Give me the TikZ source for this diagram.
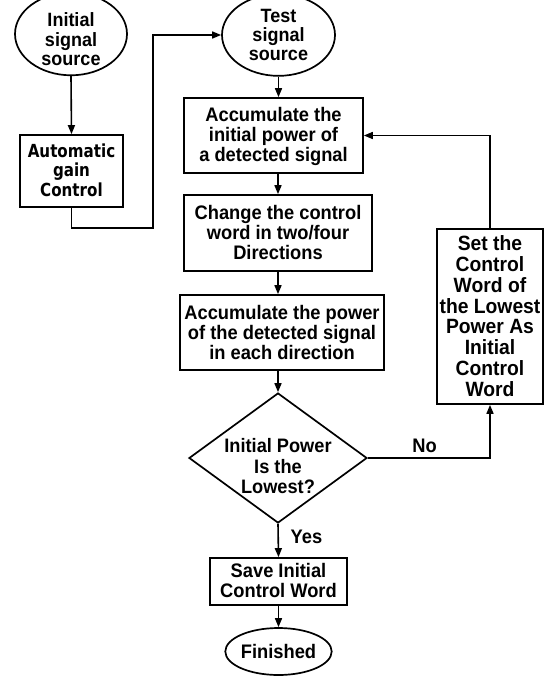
\documentclass[tikz,border=0pt]{standalone}
\usepackage{fontspec}
\usepackage{graphicx}
\setmainfont{Liberation Sans}
\newfontfamily\agcfont{DejaVu Sans}
\usetikzlibrary{arrows.meta,shapes.geometric}
\newcommand\tl[2][2pt]{\raisebox{-#1}[\height][\depth]{\scalebox{1}[1.07]{\begin{tabular}{@{}c@{}}#2\end{tabular}}}}
\newcommand\tla[1]{\raisebox{-2pt}[\height][\depth]{\scalebox{0.84}[1]{\begin{tabular}{@{}c@{}}#1\end{tabular}}}}
\tikzset{
  base/.style={draw=black, line width=1.7pt, inner sep=0pt, font=\fontsize{18.3}{18.2}\selectfont\bfseries},
  oval/.style={base, ellipse},
  boxn/.style={base, rectangle},
  decision/.style={base, diamond},
  txt/.style={inner sep=0pt, font=\fontsize{18.3}{18.2}\selectfont\bfseries},
  arr/.style={line width=1.6pt, -{Triangle[length=9pt,width=7pt]}},
  ln/.style={line width=1.6pt}
}
\begin{document}
\begin{tikzpicture}[x=1pt,y=1pt]
\useasboundingbox (0,0) rectangle (551,-677);
\node[oval, minimum width=112pt, minimum height=66pt, font=\fontsize{18}{17.8}\selectfont\bfseries] (is) at (71,-34) {\tl[8pt]{Initial\\signal\\source}};
\node[boxn, minimum width=103pt, minimum height=72pt, font=\fontsize{18}{19}\selectfont\agcfont\bfseries] (agc) at (71.5,-171) {\tla{Automatic\\gain\\Control}};
\node[oval, minimum width=113pt, minimum height=66pt, font=\fontsize{18}{17.8}\selectfont\bfseries] (ts) at (278.5,-35) {\tl[2.6pt]{Test\\signal\\source}};
\node[boxn, minimum width=179pt, minimum height=75pt] (b1) at (273.5,-135.5) {\tl{Accumulate the\\initial power of\\a detected signal}};
\node[boxn, minimum width=188pt, minimum height=76pt] (b2) at (278,-233) {\tl{Change the control\\word in two/four\\Directions}};
\node[boxn, minimum width=204pt, minimum height=75pt] (b3) at (282,-332.5) {\tl[3pt]{Accumulate the power\\of the detected signal\\in each direction}};
\node[decision, minimum width=178pt, minimum height=130pt] (d) at (278,-458) {};
\node[txt, font=\fontsize{18.2}{18.7}\selectfont\bfseries] (dt) at (278,-469) {\tl[0pt]{Initial Power\\Is the\\Lowest?}};
\node[boxn, minimum width=106pt, minimum height=175pt, font=\fontsize{19.3}{18.7}\selectfont\bfseries] (rb) at (490,-316.5) {\tl[2.6pt]{Set the\\Control\\Word of\\the Lowest\\Power As\\Initial\\Control\\Word}};
\node[boxn, minimum width=137pt, minimum height=47pt] (sv) at (278.5,-581.5) {\tl{Save Initial\\Control Word}};
\node[oval, minimum width=99pt, minimum height=47pt] (fin) at (278.5,-651.5) {\tl[2.6pt]{Finished}};
\node[txt, anchor=base] (no) at (424.5,-452) {\scalebox{1}[1.07]{No}};
\node[txt, anchor=base] (yes) at (306.5,-543) {\scalebox{1}[1.07]{Yes}};
\coordinate (c1) at (153,-228);
\draw[arr] (is.south) -- (agc.north);
\draw[arr] (agc.south) |- (c1) |- (ts.west);
\draw[arr] (ts.south) -- (ts.south |- b1.north);
\draw[arr] (b2.north |- b1.south) -- (b2.north);
\draw[arr] (b2.south) -- (b2.south |- b3.north);
\draw[arr] (d.north |- b3.south) -- (d.north);
\draw[arr] (d.south) -- (sv.north);
\draw[arr] (sv.south) -- (fin.north);
\draw[arr] (d.east) -| (rb.south);
\draw[arr] (rb.north) |- (b1.east);
\end{tikzpicture}
\end{document}
